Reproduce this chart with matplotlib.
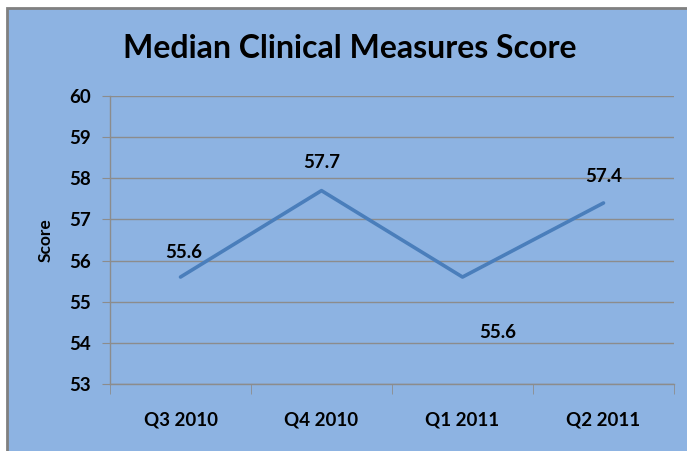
import matplotlib.pyplot as plt
from matplotlib.patches import Rectangle

quarters = ['Q3 2010', 'Q4 2010', 'Q1 2011', 'Q2 2011']
scores = [55.6, 57.7, 55.6, 57.4]
# where each data label sits relative to its point (points offset)
label_offsets = [(2, 18), (0, 20), (25, -40), (0, 19)]

bg = '#8db3e2'
line_col = '#4a7ebb'
grid_col = '#8c8c8c'

plt.rcParams['font.family'] = ['Lato', 'DejaVu Sans']

fig = plt.figure(figsize=(6.87, 4.51), dpi=100)
fig.patch.set_facecolor('white')

# chart area frame (runs off the right and bottom of the image)
frame = Rectangle((7 / 687, -0.05), 1.2, (451 - 8) / 451 + 0.05,
                  transform=fig.transFigure, facecolor=bg,
                  edgecolor='#808080', linewidth=2, zorder=-5)
fig.patches.append(frame)

ax = fig.add_axes([110 / 687, (451 - 384) / 451, (674 - 110) / 687, (384 - 96) / 451])
ax.set_facecolor('none')

x = list(range(len(quarters)))
ax.plot(x, scores, color=line_col, linewidth=2.6, solid_capstyle='round', zorder=3)

for xi, v, off in zip(x, scores, label_offsets):
    ax.annotate(f'{v:.1f}', (xi, v), xytext=off, textcoords='offset points',
                ha='center', va='center', fontsize=13.5, fontweight='bold')

ax.set_xlim(-0.5, len(quarters) - 0.5)
ax.set_ylim(53, 60)
ax.set_yticks(range(53, 61))
ax.set_xticks(x)
ax.set_xticklabels(quarters)
ax.set_xticks([i - 0.5 for i in range(len(quarters) + 1)], minor=True)

ax.grid(axis='y', color=grid_col, linewidth=1)
ax.set_axisbelow(True)
for s in ['top', 'right']:
    ax.spines[s].set_visible(False)
for s in ['left', 'bottom']:
    ax.spines[s].set_color(grid_col)
    ax.spines[s].set_linewidth(1)

ax.tick_params(axis='y', length=6, color=grid_col, labelsize=13.5, pad=8)
ax.tick_params(axis='x', which='major', length=0, labelsize=13.5, pad=20)
ax.tick_params(axis='x', which='minor', length=7, color=grid_col)
for lab in ax.get_xticklabels() + ax.get_yticklabels():
    lab.set_fontweight('bold')

ax.set_ylabel('Score', fontsize=12.5, fontweight='bold', labelpad=11)

fig.text(350 / 687, 1 - 48 / 451, 'Median Clinical Measures Score',
         ha='center', va='center', fontsize=23, fontweight='bold')

fig.savefig('out.png', dpi=100)
